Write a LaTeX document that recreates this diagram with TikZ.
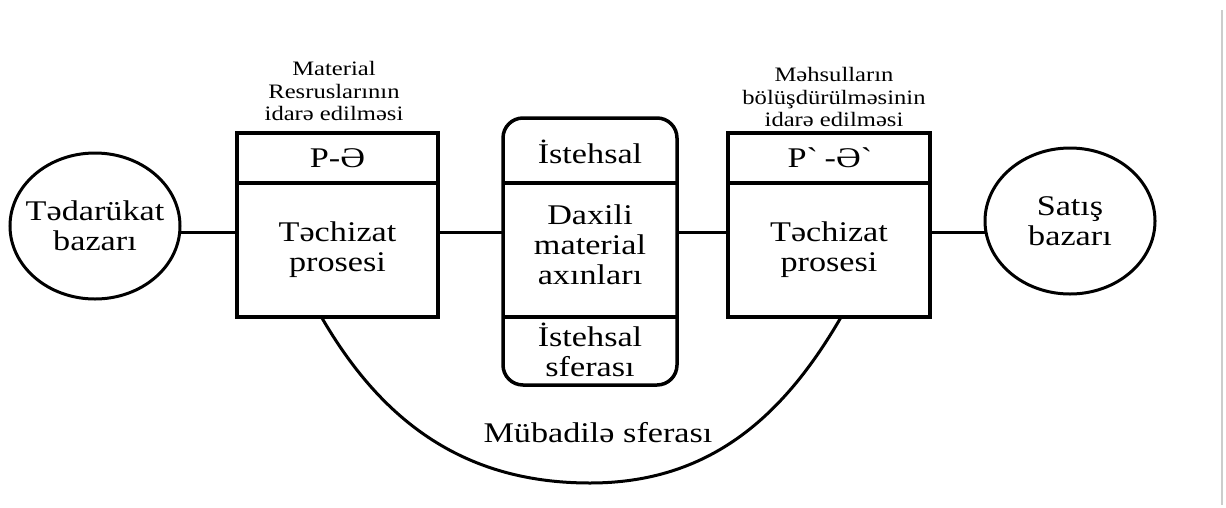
\documentclass[tikz,border=0pt]{standalone}
\usepackage{fontspec}
\setmainfont{Liberation Serif}[FakeStretch=1.2]
\usetikzlibrary{calc,shapes,positioning}

\begin{document}
\begin{tikzpicture}[x=1pt, y=-1pt, line width=3pt, node distance=0pt,
  every node/.style={font=\fontsize{28.5}{30}\selectfont, align=center, outer sep=0pt},
  small/.style={font=\fontsize{20.5}{22.5}\selectfont},
  bazar/.style={ellipse, draw, minimum width=170pt, minimum height=146pt, inner sep=-12pt},
  blok/.style={rectangle, draw, line width=3.5pt, minimum width=201pt}]
        \useasboundingbox (0,0) rectangle (1226,507);
        \node[bazar] (tedarukat) at (95,226) {Tədarükat\\bazarı};
        \node[blok, minimum height=50pt] (peL) at (337.5,158) {P-Ə};
        \node[blok, minimum height=134pt, below=of peL] (techizatL) {Təchizat\\prosesi};
        \node[small] (material) at (334,91) {Material\\Resruslarının\\idarə edilməsi};
        \node[draw, line width=3.5pt, rounded corners=20pt, minimum width=174pt, minimum height=267pt] (daxili) at (590,251.5) {};
        \draw[line width=3.5pt] (daxili.west |- peL.south) -- (daxili.east |- peL.south);
        \draw[line width=3.5pt] (daxili.west |- techizatL.south) -- (daxili.east |- techizatL.south);
        \node (istehsal) at (590,152) {İstehsal};
        \node (axinlar) at (590,245) {Daxili\\material\\axınları};
        \node (sfera) at (590,350) {İstehsal\\sferası};
        \node[blok, minimum height=50pt, minimum width=202pt] (peR) at (829,158) {P\textasciigrave{} -Ə\textasciigrave};
        \node[blok, minimum height=134pt, minimum width=202pt, below=of peR] (techizatR) {Təchizat\\prosesi};
        \node[small] (mehsul) at (834,97) {Məhsulların\\bölüşdürülməsinin\\idarə edilməsi};
        \node[bazar] (satis) at (1070,221) {Satış\\bazarı};
        \node (mubadile) at (598,433) {Mübadilə sferası};
        \coordinate (axis) at (0,232);
        \draw (tedarukat.east |- axis) -- (techizatL.west |- axis);
        \draw (techizatL.east |- axis) -- (daxili.west |- axis);
        \draw (daxili.east |- axis) -- (techizatR.west |- axis);
        \draw (techizatR.east |- axis) -- (satis.west |- axis);
        \draw ($(techizatL.south west)!0.42!(techizatL.south east)$) to[out=-60, in=180] (590,483)
          to[out=0, in=-120] ($(techizatR.south west)!0.56!(techizatR.south east)$);
        \draw[gray!40, line width=1.5pt] (1222,10) -- (1222,505);
      \end{tikzpicture}
\end{document}
